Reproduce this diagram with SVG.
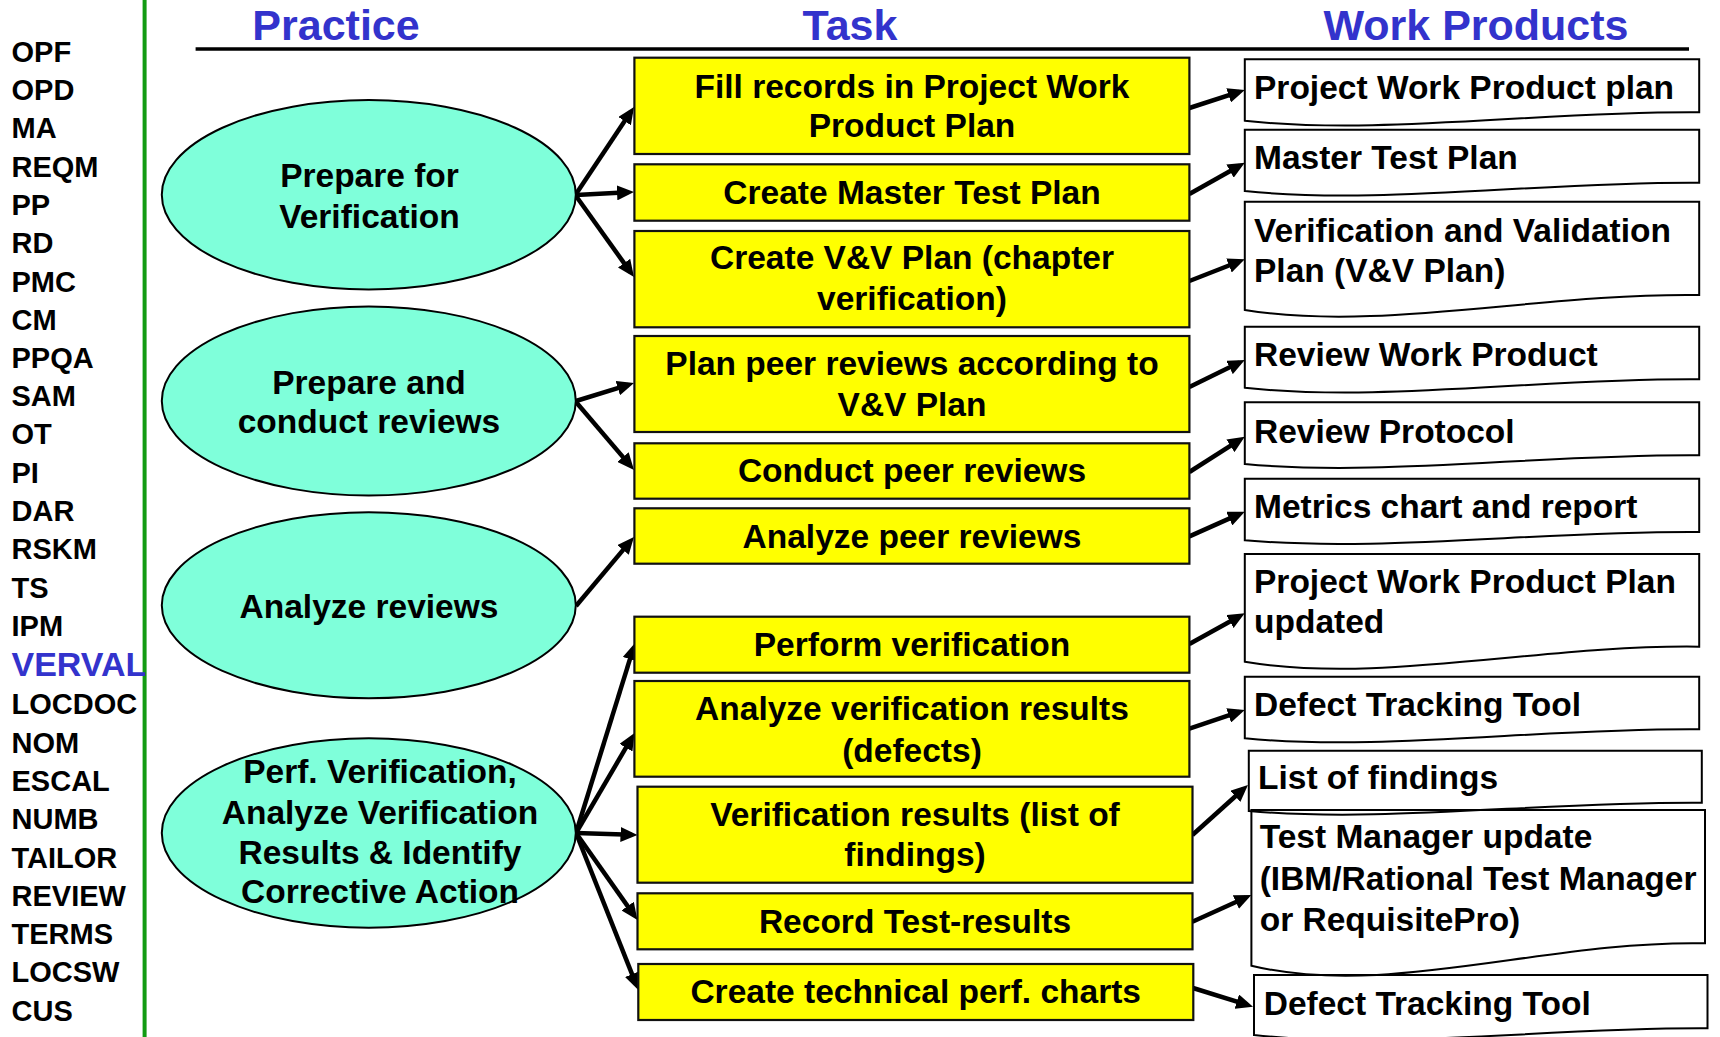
<svg xmlns="http://www.w3.org/2000/svg" width="1720" height="1037" viewBox="0 0 1720 1037">
<style>
text{font-family:"Liberation Sans",Arial,sans-serif;font-weight:bold;fill:#000}
.lst{font-size:29px}
.hdr{font-size:43px;fill:#3333CC;text-anchor:middle}
.el{fill:#7FFFDA;stroke:#000;stroke-width:2}
.et{font-size:33.5px;text-anchor:middle}
.box{fill:#FFFF00;stroke:#111;stroke-width:2.2}
.bt{font-size:33.5px;text-anchor:middle}
.doc{fill:none;stroke:#000;stroke-width:2}
.dt{font-size:33.5px}
.arr{stroke:#000;stroke-width:4.5;fill:none;marker-end:url(#ah)}
</style>
<defs>
<marker id="ah" viewBox="0 0 17 15" refX="11" refY="7.5" markerWidth="17" markerHeight="15" markerUnits="userSpaceOnUse" orient="auto">
<path d="M0,0 L17,7.5 L0,15 z" fill="#000"/>
</marker>
</defs>
<rect width="1720" height="1037" fill="#fff"/>
<g id="sidebar">
<line x1="144.6" y1="0" x2="144.6" y2="1037" stroke="#129B12" stroke-width="4"/>
<text class="lst" x="11.5" y="61.7">OPF</text>
<text class="lst" x="11.5" y="100">OPD</text>
<text class="lst" x="11.5" y="138.3">MA</text>
<text class="lst" x="11.5" y="176.6">REQM</text>
<text class="lst" x="11.5" y="214.9">PP</text>
<text class="lst" x="11.5" y="253.2">RD</text>
<text class="lst" x="11.5" y="291.5">PMC</text>
<text class="lst" x="11.5" y="329.8">CM</text>
<text class="lst" x="11.5" y="368.1">PPQA</text>
<text class="lst" x="11.5" y="406">SAM</text>
<text class="lst" x="11.5" y="444.3">OT</text>
<text class="lst" x="11.5" y="482.6">PI</text>
<text class="lst" x="11.5" y="520.9">DAR</text>
<text class="lst" x="11.5" y="559.2">RSKM</text>
<text class="lst" x="11.5" y="597.5">TS</text>
<text class="lst" x="11.5" y="635.8">IPM</text>
<text x="11.5" y="676" style="font-size:34px;fill:#3333CC">VERVAL</text>
<text class="lst" x="11.5" y="714.3">LOCDOC</text>
<text class="lst" x="11.5" y="752.6">NOM</text>
<text class="lst" x="11.5" y="790.9">ESCAL</text>
<text class="lst" x="11.5" y="829.2">NUMB</text>
<text class="lst" x="11.5" y="867.5">TAILOR</text>
<text class="lst" x="11.5" y="905.8">REVIEW</text>
<text class="lst" x="11.5" y="944.1">TERMS</text>
<text class="lst" x="11.5" y="982.4">LOCSW</text>
<text class="lst" x="11.5" y="1020.5">CUS</text>
</g>
<g id="headers">
<text class="hdr" x="336" y="39.5">Practice</text>
<text class="hdr" x="850" y="39.5">Task</text>
<text class="hdr" x="1476" y="39.5">Work Products</text>
<line x1="195.6" y1="49" x2="1689" y2="49" stroke="#000" stroke-width="3.5"/>
</g>
<g id="connectors">
<path class="arr" d="M576,194 L630.7,112"/>
<path class="arr" d="M576,195 L628,192.3"/>
<path class="arr" d="M576,196 L630.5,272.1"/>
<path class="arr" d="M576,401 L628.3,384.8"/>
<path class="arr" d="M576,402 L630.1,465.4"/>
<path class="arr" d="M576,606 L630.1,541.6"/>
<path class="arr" d="M576,833 L633.2,648.7"/>
<path class="arr" d="M576,833 L631.5,738.2"/>
<path class="arr" d="M576,833 L631.5,834.8"/>
<path class="arr" d="M576,833 L634,915.1"/>
<path class="arr" d="M576,833 L636.1,984.4"/>
<path class="arr" d="M1189.4,108 L1239.1,91.9"/>
<path class="arr" d="M1189.4,194 L1239.6,165.7"/>
<path class="arr" d="M1189.4,281 L1239.2,261.5"/>
<path class="arr" d="M1189.4,387 L1239.4,362.6"/>
<path class="arr" d="M1189.4,472 L1239.7,439.9"/>
<path class="arr" d="M1189.4,536.4 L1239.3,514.1"/>
<path class="arr" d="M1189.4,644 L1239.5,616.2"/>
<path class="arr" d="M1189.4,728.6 L1239.1,711.9"/>
<path class="arr" d="M1192.4,835 L1243.5,789"/>
<path class="arr" d="M1192.4,921.7 L1245.9,897.5"/>
<path class="arr" d="M1193,988 L1247.3,1004.9"/>
</g>
<g id="practice1">
<ellipse class="el" cx="368.8" cy="194.7" rx="207" ry="94.7"/>
<text class="et" x="369.5" y="186.7">Prepare for</text>
<text class="et" x="369.5" y="227.7">Verification</text>
</g>
<g id="practice2">
<ellipse class="el" cx="368.8" cy="401" rx="207" ry="94.5"/>
<text class="et" x="369" y="394">Prepare and</text>
<text class="et" x="369" y="433.3">conduct reviews</text>
</g>
<g id="practice3">
<ellipse class="el" cx="368.8" cy="605.2" rx="207" ry="93"/>
<text class="et" x="369" y="618.3">Analyze reviews</text>
</g>
<g id="practice4">
<ellipse class="el" cx="368.8" cy="833" rx="207" ry="94.7"/>
<text class="et" x="380" y="782.7">Perf. Verification,</text>
<text class="et" x="380" y="824">Analyze Verification</text>
<text class="et" x="380" y="864">Results &amp; Identify</text>
<text class="et" x="380" y="903.3">Corrective Action</text>
</g>
<g id="task1">
<rect class="box" x="634.4" y="57.7" width="555" height="96.3"/>
<text class="bt" x="912" y="97.7">Fill records in Project Work</text>
<text class="bt" x="912" y="137.3">Product Plan</text>
</g>
<g id="task2">
<rect class="box" x="634.4" y="164.3" width="555" height="56.4"/>
<text class="bt" x="912" y="204">Create Master Test Plan</text>
</g>
<g id="task3">
<rect class="box" x="634.4" y="231" width="555" height="96.3"/>
<text class="bt" x="912" y="269.3">Create V&amp;V Plan (chapter</text>
<text class="bt" x="912" y="310">verification)</text>
</g>
<g id="task4">
<rect class="box" x="634.4" y="336" width="555" height="96"/>
<text class="bt" x="912" y="375">Plan peer reviews according to</text>
<text class="bt" x="912" y="415.7">V&amp;V Plan</text>
</g>
<g id="task5">
<rect class="box" x="634.4" y="443.3" width="555" height="55.4"/>
<text class="bt" x="912" y="482.3">Conduct peer reviews</text>
</g>
<g id="task6">
<rect class="box" x="634.4" y="508.3" width="555" height="55.4"/>
<text class="bt" x="912" y="548.3">Analyze peer reviews</text>
</g>
<g id="task7">
<rect class="box" x="634.4" y="616.7" width="555" height="56"/>
<text class="bt" x="912" y="656">Perform verification</text>
</g>
<g id="task8">
<rect class="box" x="634.4" y="681" width="555" height="95.7"/>
<text class="bt" x="912" y="720">Analyze verification results</text>
<text class="bt" x="912" y="761.7">(defects)</text>
</g>
<g id="task9">
<rect class="box" x="637.5" y="786.7" width="555" height="96"/>
<text class="bt" x="915" y="826">Verification results (list of</text>
<text class="bt" x="915" y="865.7">findings)</text>
</g>
<g id="task10">
<rect class="box" x="637.5" y="893.3" width="555" height="56"/>
<text class="bt" x="915" y="932.7">Record Test-results</text>
</g>
<g id="task11">
<rect class="box" x="638.3" y="964" width="555" height="56"/>
<text class="bt" x="915.7" y="1003.3">Create technical perf. charts</text>
</g>
<g id="wp1">
<path class="doc" d="M1244.8,59.3 H1699.2 V112.3 C1540.2,111 1381.1,135.7 1244.8,120.7 Z"/>
<text class="dt" x="1254" y="99.3">Project Work Product plan</text>
</g>
<g id="wp2">
<path class="doc" d="M1244.8,129.7 H1699.2 V182.7 C1540.2,181.5 1381.1,205.1 1244.8,191 Z"/>
<text class="dt" x="1254" y="169.3">Master Test Plan</text>
</g>
<g id="wp3">
<path class="doc" d="M1244.8,201.7 H1699.2 V295 C1540.2,292.8 1381.1,331.9 1244.8,310 Z"/>
<text class="dt" x="1254" y="241.7">Verification and Validation</text>
<text class="dt" x="1254" y="281.7">Plan (V&amp;V Plan)</text>
</g>
<g id="wp4">
<path class="doc" d="M1244.8,326.7 H1699.2 V379.3 C1540.2,378 1381.1,402.7 1244.8,387.7 Z"/>
<text class="dt" x="1254" y="366">Review Work Product</text>
</g>
<g id="wp5">
<path class="doc" d="M1244.8,402.3 H1699.2 V455.3 C1540.2,454 1381.1,476.9 1244.8,464 Z"/>
<text class="dt" x="1254" y="442.7">Review Protocol</text>
</g>
<g id="wp6">
<path class="doc" d="M1244.8,478.7 H1699.2 V532 C1540.2,530.8 1381.1,552.3 1244.8,540.3 Z"/>
<text class="dt" x="1254" y="518.3">Metrics chart and report</text>
</g>
<g id="wp7">
<path class="doc" d="M1244.8,554 H1699.2 V646.7 C1540.2,644.5 1381.1,684.5 1244.8,661.7 Z"/>
<text class="dt" x="1254" y="592.7">Project Work Product Plan</text>
<text class="dt" x="1254" y="632.7">updated</text>
</g>
<g id="wp8">
<path class="doc" d="M1244.8,676.7 H1699.2 V729.3 C1540.2,728 1381.1,751.5 1244.8,738.3 Z"/>
<text class="dt" x="1254" y="716">Defect Tracking Tool</text>
</g>
<g id="wp9">
<path class="doc" d="M1248.8,750.7 H1701.8 V802.7 C1543.3,801.5 1384.7,823 1248.8,811 Z"/>
<text class="dt" x="1258" y="789.3">List of findings</text>
</g>
<g id="wp10">
<path class="doc" d="M1251.4,810 H1705 V943.3 C1546.2,940 1387.5,998.7 1251.4,965.7 Z"/>
<text class="dt" x="1259.7" y="848.3">Test Manager update</text>
<text class="dt" x="1259.7" y="890">(IBM/Rational Test Manager</text>
<text class="dt" x="1259.7" y="931">or RequisitePro)</text>
</g>
<g id="wp11">
<path class="doc" d="M1254,975 H1707.5 V1028.3 C1548.8,1027.3 1390,1050 1254,1035 Z"/>
<text class="dt" x="1263.7" y="1015">Defect Tracking Tool</text>
</g>
</svg>
